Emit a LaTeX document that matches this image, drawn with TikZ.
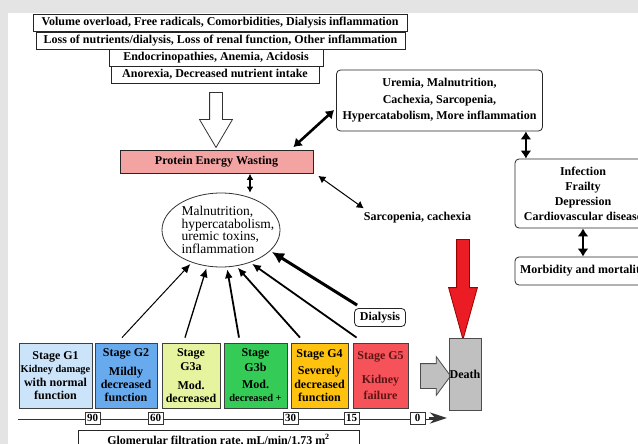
\documentclass[tikz,border=0pt]{standalone}
\usepackage{fontspec}
\setmainfont{Liberation Serif}
\usetikzlibrary{shapes.geometric, shapes.arrows, arrows.meta}

\definecolor{bggray}{RGB}{228,228,228}
\definecolor{pewpink}{RGB}{244,163,163}
\definecolor{gOne}{RGB}{204,228,250}
\definecolor{gTwo}{RGB}{104,170,238}
\definecolor{gThreeA}{RGB}{230,244,160}
\definecolor{gThreeB}{RGB}{52,204,86}
\definecolor{gFour}{RGB}{255,194,14}
\definecolor{gFive}{RGB}{245,82,90}
\definecolor{gFiveText}{RGB}{95,20,20}
\definecolor{deathgray}{RGB}{192,192,192}
\definecolor{redarrow}{RGB}{236,28,36}

\begin{document}
\begin{tikzpicture}[x=1pt, y=-1pt,
  box/.style={draw=black!85, thick, fill=white, inner sep=1pt,
    font=\bfseries\fontsize{12}{13}\selectfont},
  rbox/.style={box, rounded corners=4pt, align=center},
  stage/.style={draw=black!75, thick, minimum height=65pt, align=center, inner sep=0pt,
    font=\bfseries\fontsize{12}{13.3}\selectfont},
  tick/.style={draw=black!80, thick, fill=white, inner sep=1pt, minimum width=15pt,
    minimum height=12pt, font=\bfseries\fontsize{11}{11}\selectfont},
  blockarrow/.style={single arrow, thick, inner xsep=0pt},
  dbl/.style={{Latex[length=8pt,width=11pt]}-{Latex[length=8pt,width=11pt]}, line width=2.6pt},
  dblthin/.style={{Latex[length=6pt,width=7pt]}-{Latex[length=6pt,width=7pt]}, line width=1.4pt},
  up/.style={-{Latex[length=9pt,width=8pt]}, shorten >=2pt}]

\useasboundingbox (0,0) rectangle (638,444);
\clip (0,0) rectangle (638,444);
\fill[bggray] (0,0) rectangle (638,444);
\fill[white] (8,13) rectangle (638,444);

% causes
\node[box, minimum width=374pt, minimum height=17pt] (vol) at (220,23)
  {Volume overload, Free radicals, Comorbidities, Dialysis inflammation};
\node[box, minimum width=369pt, minimum height=17pt] (loss) at (220.5,40.5)
  {Loss of nutrients/dialysis, Loss of renal function, Other inflammation};
\node[box, minimum width=214pt, minimum height=17pt] (endo) at (216,57.5)
  {Endocrinopathies, Anemia, Acidosis};
\node[box, minimum width=208pt, minimum height=17pt] (anor) at (215,74.5)
  {Anorexia, Decreased nutrient intake};

\node[blockarrow, draw=black!80, fill=white, rotate=-90, inner ysep=6pt,
  minimum height=55pt, single arrow head extend=10pt,
  single arrow tip angle=61] (down) at (216,114.5) {};

% PEW
\node[box, fill=pewpink, minimum width=193pt, minimum height=23pt] (pew) at (216.5,162)
  {Protein Energy Wasting};

% consequences
\node[rbox, minimum width=206pt, minimum height=61pt,
  font=\bfseries\fontsize{12}{16.5}\selectfont] (urem) at (439.5,100.5)
  {Uremia, Malnutrition,\\ Cachexia, Sarcopenia,\\ Hypercatabolism, More inflammation};
\node[rbox, minimum width=136pt, minimum height=69pt,
  font=\bfseries\fontsize{12}{15}\selectfont] (infect) at (583,193.5)
  {Infection\\ Frailty\\ Depression\\ Cardiovascular disease};
\node[rbox, minimum width=136pt, minimum height=28pt] (morb) at (583,271)
  {Morbidity and mortality};

\node[inner sep=1pt, font=\bfseries\fontsize{12}{13}\selectfont] (sarco) at (417.5,218)
  {Sarcopenia, cachexia};

\node[blockarrow, draw=red!60!black, fill=redarrow, rotate=-90, inner ysep=6pt,
  minimum height=100pt, single arrow head extend=8pt,
  single arrow tip angle=31] (red) at (463,278) {};

% ellipse
\node[ellipse, draw=black!80, thick, minimum width=118pt, minimum height=74pt] (ell) at (221,230) {};
\node[align=left, inner sep=0pt, font=\fontsize{13.5}{12.7}\selectfont] (elltext) at (228,230)
  {Malnutrition,\\ hypercatabolism,\\ uremic toxins,\\ inflammation};

% CKD stages
\node[stage, fill=gOne, minimum width=73pt] (g1) at (55.5,375.5)
  {Stage G1\\ {\fontsize{10.4}{13.3}\selectfont Kidney damage}\\ with normal\\ function};
\node[stage, fill=gTwo, minimum width=62pt] (g2) at (126,375.5)
  {Stage G2\\[5pt] Mildly\\ decreased\\ function};
\node[stage, fill=gThreeA, minimum width=58pt] (g3a) at (191,375.5)
  {Stage\\[1pt] G3a\\[5pt] Mod.\\ decreased};
\node[stage, fill=gThreeB, minimum width=63pt] (g3b) at (255.5,375.5)
  {Stage\\[1pt] G3b\\[4pt] Mod.\\ {\fontsize{10.4}{13.3}\selectfont decreased +}};
\node[stage, fill=gFour, minimum width=57pt] (g4) at (319.5,375.5)
  {Stage G4\\[4pt] Severely\\ decreased\\ function};
\node[stage, fill=gFive, minimum width=55pt, text=gFiveText] (g5) at (380.5,375.5)
  {Stage G5\\[11pt] Kidney\\[2pt] failure};

\node[rbox, minimum width=51pt, minimum height=18pt] (dial) at (380,317.5) {Dialysis};

\node[blockarrow, draw=black!70, fill=deathgray, inner ysep=12pt,
  minimum height=30pt, single arrow head extend=7pt,
  single arrow tip angle=107] (g5death) at (431,376) {};
\node[draw=black!70, thick, fill=deathgray, minimum width=32pt, minimum height=72pt,
  inner sep=0pt, font=\bfseries\fontsize{12}{13}\selectfont] (death) at (465,374) {Death};

% GFR axis
\coordinate (axL) at (18,418);
\coordinate (axR) at (447,418);
\draw[black!80, line width=3pt, -{Stealth[length=17pt,width=11pt]}] (axL) -- (axR);
\draw[white, line width=1.2pt, shorten >=18pt] (axL) -- (axR);

\node[tick] (t90) at (92.5,418) {90};
\node[tick] (t60) at (155.5,418) {60};
\node[tick] (t30) at (290.5,418) {30};
\node[tick] (t15) at (351.5,418) {15};
\node[tick] (t0) at (417.5,418) {0};

\node[box, minimum width=281pt, minimum height=20pt, anchor=north] (gfr) at (218.5,430)
  {Glomerular filtration rate, mL/min/1.73 m\textsuperscript{2}};

% connectors
\draw[dbl] ([xshift=-20pt,yshift=3pt]pew.north east) -- ([xshift=-2pt,yshift=-9.5pt]urem.west);
\draw[dbl] ([xshift=-17pt]urem.south east) -- ([xshift=-17pt]urem.south east |- infect.north);
\draw[dbl] (infect.south) -- (morb.north);
\draw[dblthin] ([xshift=33.5pt]pew.south) -- ([xshift=33.5pt]pew.south |- ell.north);
\draw[{Latex[length=7pt,width=8pt]}-{Latex[length=7pt,width=8pt]}, line width=1pt]
  ([xshift=5pt,yshift=-2pt]pew.south east) -- ([xshift=1pt,yshift=3pt]sarco.north west);

\draw[up, line width=1pt] ([xshift=-4pt,yshift=5pt]g2.north) -- (ell.228);
\draw[up, line width=1.3pt] ([xshift=-6pt,yshift=5pt]g3a.north) -- (ell.249);
\draw[up, line width=1.8pt] ([xshift=-16.5pt,yshift=5pt]g3b.north) -- (ell.279);
\draw[up, line width=1.8pt] ([xshift=-19.5pt,yshift=5pt]g4.north) -- (ell.293);
\draw[up, line width=1.8pt] ([xshift=4pt,yshift=5pt]g5.north west) -- (ell.312);
\draw[up, line width=3pt, -{Latex[length=12pt,width=12pt]}] ([xshift=3pt,yshift=3pt]dial.north west) -- (ell.337);

\end{tikzpicture}
\end{document}
